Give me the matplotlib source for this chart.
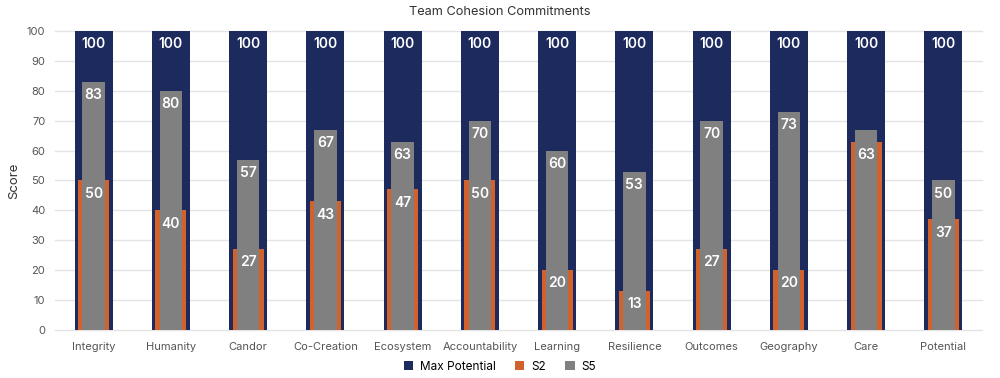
import matplotlib.pyplot as plt
import numpy as np

categories = ["Integrity", "Humanity", "Candor", "Co-Creation", "Ecosystem", "Accountability",
              "Learning", "Resilience", "Outcomes", "Geography", "Care", "Potential"]
max_potential = [100, 100, 100, 100, 100, 100, 100, 100, 100, 100, 100, 100]
s2 = [50, 40, 27, 43, 47, 50, 20, 13, 27, 20, 63, 37]
s5 = [83, 80, 57, 67, 63, 70, 60, 53, 70, 73, 67, 50]

plt.rcParams['font.family'] = ['Inter', 'DejaVu Sans']

navy = "#1c2a5e"
orange = "#d2622b"
gray = "#808080"

fig = plt.figure(figsize=(10, 3.78), dpi=100)
ax = fig.add_axes([0.055, 0.127, 0.927, 0.791])

x = np.arange(len(categories))
b_max = ax.bar(x, max_potential, width=0.49, color=navy, label="Max Potential", zorder=2)
b_s2 = ax.bar(x, s2, width=0.40, color=orange, label="S2", zorder=3)
b_s5 = ax.bar(x, s5, width=0.29, color=gray, label="S5", zorder=4)

def put_labels(bars, vals, skip=None):
    for i, (b, v) in enumerate(zip(bars, vals)):
        if skip is not None and skip[i]:
            continue
        ax.annotate(str(v), (b.get_x() + b.get_width() / 2, v), xytext=(0, -9.5),
                    textcoords="offset points", ha="center", va="center",
                    color="white", fontsize=10, fontweight="semibold", zorder=6)

put_labels(b_max, max_potential)
put_labels(b_s2, s2)
# the S5 label is left out where it would sit on top of the S2 one
put_labels(b_s5, s5, skip=[abs(a - b) < 8 for a, b in zip(s5, s2)])

ax.set_xlim(-0.5, len(categories) - 0.5)
ax.set_ylim(0, 100)
ax.set_yticks(range(0, 101, 10))
ax.set_xticks(x)
ax.set_xticklabels(categories)
ax.tick_params(axis="both", length=0, labelsize=8, colors="#555555")
ax.tick_params(axis="x", pad=9)
ax.tick_params(axis="y", pad=7)
ax.set_axisbelow(True)
for s in ax.spines.values():
    s.set_visible(False)
for y in range(0, 101, 10):
    ax.axhline(y, color="#e4e4e4", linewidth=1, zorder=1, clip_on=False)

ax.set_ylabel("Score", fontsize=9.5, color="#333333", labelpad=5)
fig.suptitle("Team Cohesion Commitments", fontsize=9.2, color="#333333", y=0.985)

ax.legend(loc="center", bbox_to_anchor=(0.48, -0.124), ncol=3, frameon=False,
          fontsize=8.5, handlelength=0.8, handleheight=0.8, columnspacing=1.6, handletextpad=0.6)

plt.savefig("out.png", dpi=100)
plt.close()
